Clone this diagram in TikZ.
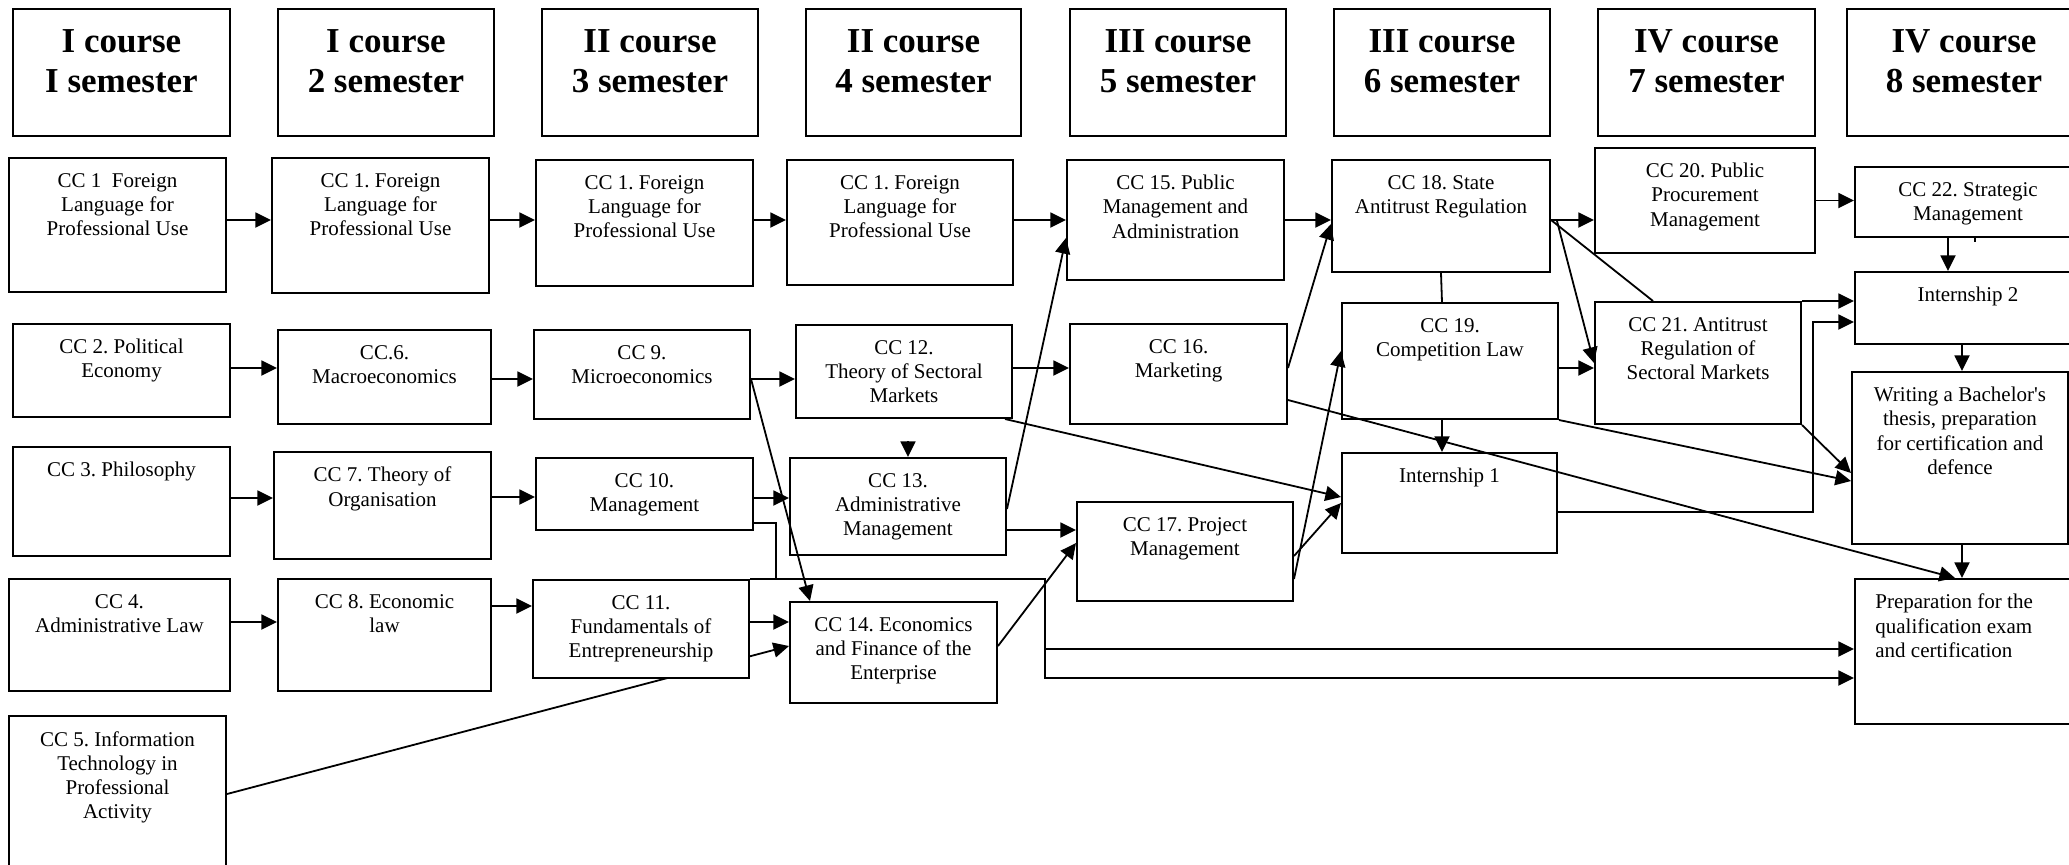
\documentclass[tikz,border=0pt]{standalone}
\usepackage{fontspec}
\setmainfont{Liberation Serif}
\usetikzlibrary{arrows.meta, backgrounds}
\frenchspacing

\begin{document}
\begin{tikzpicture}[x=0.5pt, y=-0.5pt,
    hdr/.style 2 args={draw, fill=white, line width=1pt, anchor=north west, inner sep=0pt,
      minimum width=#1*0.5pt, minimum height=#2*0.5pt},
    subj/.style 2 args={hdr={#1}{#2}},
    htxt/.style={anchor=north, yshift=-10.4pt, align=center, inner sep=0pt,
      font=\bfseries\fontsize{17.5}{20}\selectfont},
    txt/.style={anchor=north, yshift=-7.9pt, align=center, inner sep=0pt,
      font=\fontsize{10.5}{12.1}\selectfont},
    arr/.style={-{Triangle[length=7.8pt, width=7.5pt]}, line width=0.9pt},
    ln/.style={line width=0.9pt}]

    \path[use as bounding box] (0,0) rectangle (2069,864);
    \clip (0,0) rectangle (2069,864);

    % Semester headers
    \node[hdr={217}{127}, label={[htxt]north:{I course\\I semester}}] (h1) at (12,8) {};
    \node[hdr={216}{127}, label={[htxt]north:{I course\\2 semester}}] (h2) at (277,8) {};
    \node[hdr={216}{127}, label={[htxt]north:{II course\\3 semester}}] (h3) at (541,8) {};
    \node[hdr={215}{127}, label={[htxt]north:{II course\\4 semester}}] (h4) at (805,8) {};
    \node[hdr={216}{127}, label={[htxt]north:{III course\\5 semester}}] (h5) at (1069,8) {};
    \node[hdr={216}{127}, label={[htxt]north:{III course\\6 semester}}] (h6) at (1333,8) {};
    \node[hdr={217}{127}, label={[htxt]north:{IV course\\7 semester}}] (h7) at (1597,8) {};
    \node[hdr={234}{127}, label={[htxt]north:{IV course\\8 semester}}] (h8) at (1846,8) {};

    % First row of disciplines
    \node[subj={217}{134}, label={[txt]north:{CC 1\ \ Foreign\\Language for\\Professional Use}}] (cc1a) at (8,157) {};
    \node[subj={217}{135}, label={[txt]north:{CC 1. Foreign\\Language for\\Professional Use}}] (cc1b) at (271,157) {};
    \node[subj={217}{126}, label={[txt]north:{CC 1. Foreign\\Language for\\Professional Use}}] (cc1c) at (535,159) {};
    \node[subj={226}{125}, label={[txt]north:{CC 1. Foreign\\Language for\\Professional Use}}] (cc1d) at (786,159) {};
    \node[subj={217}{120}, label={[txt]north:{CC 15. Public\\Management and\\Administration}}] (cc15) at (1066,159) {};
    \node[subj={218}{112}, label={[txt]north:{CC 18. State\\Antitrust Regulation}}] (cc18) at (1331,159) {};
    \node[subj={220}{105}, label={[txt]north:{CC 20. Public\\Procurement\\Management}}] (cc20) at (1594,147) {};
    \node[subj={226}{70}, label={[txt]north:{CC 22. Strategic\\Management}}] (cc22) at (1854,166) {};

    % Second row
    \node[subj={217}{93}, label={[txt]north:{CC 2. Political\\Economy}}] (cc2) at (12,323) {};
    \node[subj={213}{94}, label={[txt]north:{CC.6.\\Macroeconomics}}] (cc6) at (277,329) {};
    \node[subj={216}{89}, label={[txt]north:{CC 9.\\Microeconomics}}] (cc9) at (533,329) {};
    \node[subj={216}{93}, label={[txt]north:{CC 12.\\Theory of Sectoral\\Markets}}] (cc12) at (795,324) {};
    \node[subj={217}{100}, label={[txt]north:{CC 16.\\Marketing}}] (cc16) at (1069,323) {};
    \node[subj={216}{116}, label={[txt]north:{CC 19.\\Competition Law}}] (cc19) at (1341,302) {};
    \node[subj={206}{122}, label={[txt]north:{CC 21. Antitrust\\Regulation of\\Sectoral Markets}}] (cc21) at (1594,301) {};
    \node[subj={226}{72}, label={[txt]north:{Internship 2}}] (int2) at (1854,271) {};

    % Third row
    \node[subj={217}{109}, label={[txt]north:{CC 3. Philosophy}}] (cc3) at (12,446) {};
    \node[subj={217}{107}, label={[txt]north:{CC 7. Theory of\\Organisation}}] (cc7) at (273,451) {};
    \node[subj={217}{72}, label={[txt]north:{CC 10.\\Management}}] (cc10) at (535,457) {};
    \node[subj={216}{97}, label={[txt]north:{CC 13.\\Administrative\\Management}}] (cc13) at (789,457) {};
    \node[subj={216}{99}, label={[txt]north:{CC 17. Project\\Management}}] (cc17) at (1076,501) {};
    \node[subj={215}{100}, label={[txt]north:{Internship 1}}] (int1) at (1341,452) {};
    \node[subj={216}{172}, label={[txt]north:{Writing a Bachelor\textquotesingle s\\thesis, preparation\\for certification and\\defence}}] (writ) at (1851,371) {};

    % Fourth row
    \node[subj={221}{112}, label={[txt]north:{CC 4.\\Administrative Law}}] (cc4) at (8,578) {};
    \node[subj={213}{112}, label={[txt]north:{CC 8. Economic\\law}}] (cc8) at (277,578) {};
    \node[subj={216}{98}, label={[txt]north:{CC 11.\\Fundamentals of\\Entrepreneurship}}] (cc11) at (532,579) {};
    \node[subj={207}{101}, label={[txt]north:{CC 14. Economics\\and Finance of the\\Enterprise}}] (cc14) at (789,601) {};
    \node[subj={226}{145}, label={[txt, align=left, anchor=north west, xshift=10.5pt]north west:{Preparation for the\\qualification exam\\and certification}}] (prep) at (1854,578) {};

    % Fifth row
    \node[subj={217}{165}, label={[txt]north:{CC 5. Information\\Technology in\\Professional\\Activity}}] (cc5) at (8,715) {};

    % Junction points of the long bus lines
    \coordinate (jn) at (1045,579);
    \coordinate (jr) at (1813,322);

    % Line from CC 5 runs behind CC 11
    \begin{scope}[on background layer]
        \draw[arr] ([yshift=2.25pt]cc5.east) -- ([yshift=3.25pt]cc14.west);
    \end{scope}

    % Foreign language chain
    \draw[arr] ([yshift=2.5pt]cc1a.east) -- ([yshift=2.5pt]cc1a.east -| cc1b.west);
    \draw[arr] ([yshift=2.75pt]cc1b.east) -- ([yshift=2.75pt]cc1b.east -| cc1c.west);
    \draw[arr] ([yshift=1.5pt]cc1c.east) -- ([yshift=1.5pt]cc1c.east -| cc1d.west);
    \draw[arr] ([yshift=1.25pt]cc1d.east) -- ([yshift=1.25pt]cc1d.east -| cc15.west);
    \draw[arr] (cc15.east) -- (cc15.east -| cc18.west);
    \draw[arr] ([yshift=-2pt]cc18.east) -- ([yshift=-2pt]cc18.east -| cc20.west);
    \draw[arr] (cc20.east) -- (cc20.east -| cc22.west);

    % Economics chain
    \draw[arr] ([yshift=1.25pt]cc2.east) -- ([yshift=1.25pt]cc2.east -| cc6.west);
    \draw[arr] ([yshift=-1pt]cc6.east) -- ([yshift=-1pt]cc6.east -| cc9.west);
    \draw[arr] ([yshift=-2.25pt]cc9.east) -- ([yshift=-2.25pt]cc9.east -| cc12.west);
    \draw[arr] ([yshift=-2.25pt]cc9.east) -- ([xshift=-41.75pt]cc14.north);
    \draw[arr] ([yshift=1.75pt]cc12.east) -- ([yshift=1.75pt]cc12.east -| cc16.west);
    \draw[arr] ([xshift=5pt,yshift=7.8pt]cc13.north) -- ([xshift=5pt]cc13.north);
    \draw[arr] ([xshift=-4pt]cc12.south east) -- ([yshift=3pt]int1.west);

    % Management chain
    \draw[arr] ([yshift=1.75pt]cc3.east) -- ([yshift=1.75pt]cc3.east -| cc7.west);
    \draw[arr] ([yshift=4.25pt]cc7.east) -- ([yshift=4.25pt]cc7.east -| cc10.west);
    \draw[arr] ([yshift=-2pt]cc10.east) -- ([yshift=-2pt]cc10.east -| cc13.west);
    \draw[arr] ([yshift=-1.25pt]cc13.east) -- ([yshift=-9pt]cc15.west);
    \draw[arr] ([yshift=-11.75pt]cc13.east) -- ([yshift=-11.75pt]cc13.east -| cc17.west);

    % Law and entrepreneurship chain
    \draw[arr] ([yshift=6.5pt]cc4.east) -- ([yshift=6.5pt]cc4.east -| cc8.west);
    \draw[arr] ([yshift=14.5pt]cc8.east) -- ([yshift=14.5pt]cc8.east -| cc11.west);
    \draw[arr] ([yshift=3.5pt]cc11.east) -- ([yshift=3.5pt]cc11.east -| cc14.west);
    \draw[arr] ([yshift=3.25pt]cc14.east) -- ([yshift=4.25pt]cc17.west);

    % Bus to the qualification exam
    \draw[ln] ([yshift=-14.5pt]cc10.east) -| ([xshift=11pt]cc10.east |- cc11.north);
    \draw[arr] (cc11.north east) -- (cc11.north east -| jn) |- ([yshift=-13.25pt]prep.west);
    \draw[arr] ([yshift=1.25pt]prep.west -| jn) -- ([yshift=1.25pt]prep.west);

    % Third year links
    \draw[arr] ([yshift=3pt]cc16.east) -- ([yshift=-4pt]cc18.west);
    \draw[arr] ([yshift=-13pt]cc16.east) -- ([xshift=-6.5pt]prep.north);
    \draw[arr] ([yshift=-13.75pt]cc17.east) -- ([yshift=5pt]cc19.west);
    \draw[arr] ([yshift=-2.25pt]cc17.east) -- (int1.west);
    \draw[ln] (cc18.south) -- ([xshift=-4pt]cc19.north);
    \draw[arr] ([xshift=-4pt]cc19.south) -- ([xshift=-3.75pt]int1.north);

    % Fourth year links
    \draw[arr] ([xshift=3pt,yshift=-2.5pt]cc18.east) -- (cc21.west);
    \draw[ln] ([yshift=-2pt]cc18.east) -- ([xshift=-22.5pt]cc21.north);
    \draw[arr] ([yshift=-3.5pt]cc19.east) -- ([yshift=-3.5pt]cc19.east -| cc21.west);
    \draw[arr] (cc21.north east) -- (cc21.north east -| int2.west);
    \draw[arr] ([yshift=-4.5pt]int1.east) -| (jr) -- (jr -| int2.west);
    \draw[arr] (cc21.south east) -- ([yshift=-7.5pt]writ.west);
    \draw[arr] (cc19.south east) -- ([yshift=-11.5pt]writ.west);
    \draw[arr] ([xshift=-10pt]cc22.south) -- ([xshift=-10pt]cc22.south |- int2.north);
    \draw[ln] ([xshift=3.5pt]cc22.south) -- ++(0,4);
    \draw[arr] ([xshift=1pt]writ.north |- int2.south) -- ([xshift=1pt]writ.north);
    \draw[arr] ([xshift=1pt]writ.south) -- ([xshift=1pt]writ.south |- prep.north);

\end{tikzpicture}
\end{document}
